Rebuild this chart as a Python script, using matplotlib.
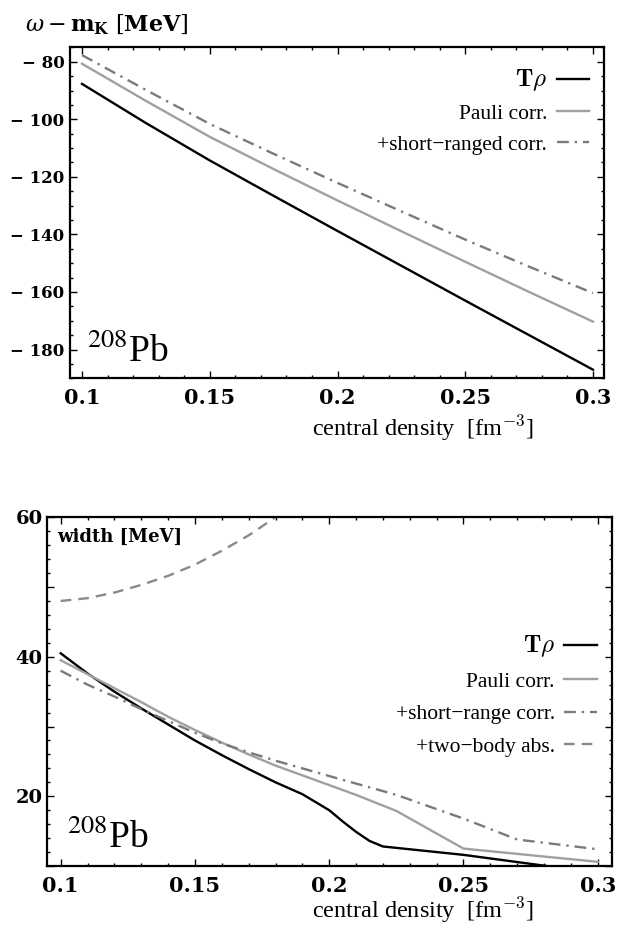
import numpy as np
import matplotlib
matplotlib.use("Agg")
import matplotlib.pyplot as plt
from matplotlib.ticker import MultipleLocator, FuncFormatter

plt.rcParams['font.family'] = ['Liberation Serif', 'DejaVu Serif']
plt.rcParams['mathtext.fontset'] = 'cm'

# ---- upper panel: omega - m_K vs central density ----
rho_top = [0.1, 0.125, 0.15, 0.175, 0.2, 0.225, 0.25, 0.275, 0.3]
e_trho = [-87.7, -101.3, -114.3, -126.6, -138.8, -150.9, -163.0, -175.0, -187.0]
e_pauli = [-80.7, -93.6, -106.1, -117.3, -128.2, -138.9, -149.5, -160.0, -170.3]
e_short = [-77.7, -89.8, -101.6, -112.0, -122.1, -132.0, -141.8, -151.2, -160.4]

# ---- lower panel: width vs central density ----
rho_trho = [0.1, 0.11, 0.12, 0.13, 0.14, 0.15, 0.16, 0.17, 0.18, 0.19, 0.2,
            0.205, 0.21, 0.215, 0.22, 0.25, 0.283, 0.3]
w_trho = [40.5, 37.6, 35.0, 32.6, 30.3, 28.0, 25.9, 23.9, 22.0, 20.3, 18.0,
          16.4, 14.9, 13.6, 12.8, 11.6, 9.9, 9.1]
rho_pauli = [0.1, 0.11, 0.12, 0.13, 0.14, 0.15, 0.16, 0.17, 0.18, 0.19, 0.2,
             0.21, 0.225, 0.25, 0.3]
w_pauli = [39.5, 37.5, 35.5, 33.5, 31.4, 29.5, 27.7, 26.0, 24.4, 23.0, 21.6,
           20.2, 17.9, 12.5, 10.6]
rho_short = [0.1, 0.11, 0.12, 0.13, 0.14, 0.15, 0.16, 0.17, 0.18, 0.19, 0.2,
             0.225, 0.25, 0.27, 0.3]
w_short = [38.0, 36.0, 34.3, 32.5, 30.8, 29.1, 27.6, 26.3, 25.1, 24.0, 22.9,
           20.2, 16.8, 13.8, 12.4]
rho_twobody = [0.1, 0.11, 0.12, 0.13, 0.14, 0.15, 0.16, 0.17, 0.18, 0.19, 0.2]
w_twobody = [48.0, 48.4, 49.2, 50.3, 51.6, 53.2, 55.2, 57.4, 60.0, 62.8, 66.0]

c_pauli = '#a0a0a0'
c_short = '#7a7a7a'
c_two = '#8a8a8a'
lw = 1.7
dashdot = (0, (5, 2.5, 1, 2.5))
dashed = (0, (4.5, 3))
tickfont = {'family': 'DejaVu Serif', 'weight': 'bold'}


def style_axes(ax):
    for s in ax.spines.values():
        s.set_linewidth(1.6)
    ax.tick_params(which='both', direction='in', top=True, right=True, width=1.0)
    ax.tick_params(which='major', length=5)
    ax.tick_params(which='minor', length=2.5)
    ax.xaxis.set_major_locator(MultipleLocator(0.05))
    ax.xaxis.set_minor_locator(MultipleLocator(0.01))
    ax.xaxis.set_major_formatter(FuncFormatter(lambda v, p: '%g' % round(v, 3)))
    ax.tick_params(axis='x', labelsize=15, pad=7)


def bold_ticks(ax):
    for lab in ax.get_xticklabels() + ax.get_yticklabels():
        lab.set_fontfamily(tickfont['family'])
        lab.set_fontweight(tickfont['weight'])


fig = plt.figure(figsize=(6.18, 9.3), dpi=100)

ax1 = fig.add_axes([0.1133, 0.5932, 0.864, 0.3559])
ax1.plot(rho_top, e_trho, color='black', lw=lw, label=r'$\mathbf{T}\rho$')
ax1.plot(rho_top, e_pauli, color=c_pauli, lw=lw, label='Pauli corr.')
ax1.plot(rho_top, e_short, color=c_short, lw=lw, linestyle=dashdot,
         label='+short\u2212ranged corr.')
ax1.set_xlim(0.0953, 0.3043)
ax1.set_ylim(-190, -75)
style_axes(ax1)
ax1.yaxis.set_major_locator(MultipleLocator(20))
ax1.yaxis.set_minor_locator(MultipleLocator(5))
ax1.yaxis.set_major_formatter(FuncFormatter(lambda v, p: '\u2212 %d' % abs(v)))
ax1.tick_params(axis='y', labelsize=12, pad=4)

ax2 = fig.add_axes([0.0756, 0.0688, 0.9142, 0.375])
ax2.plot(rho_trho, w_trho, color='black', lw=lw, label=r'$\mathbf{T}\rho$')
ax2.plot(rho_pauli, w_pauli, color=c_pauli, lw=lw, label='Pauli corr.')
ax2.plot(rho_short, w_short, color=c_short, lw=lw, linestyle=dashdot,
         label='+short\u2212range corr.')
ax2.plot(rho_twobody, w_twobody, color=c_two, lw=lw, linestyle=dashed,
         label='+two\u2212body abs.')
ax2.set_xlim(0.0948, 0.3052)
ax2.set_ylim(10, 60)
style_axes(ax2)
ax2.yaxis.set_major_locator(MultipleLocator(10))
ax2.yaxis.set_minor_locator(MultipleLocator(2))
ax2.yaxis.set_major_formatter(FuncFormatter(
    lambda v, p: '%d' % v if int(round(v)) % 20 == 0 else ''))
ax2.tick_params(axis='y', labelsize=14, pad=3)

fig.canvas.draw()
bold_ticks(ax1)
bold_ticks(ax2)

# legends
for ax, anchor, spacing in [(ax1, (1.0, 0.985), 0.5), (ax2, (1.0, 0.71), 0.58)]:
    leg = ax.legend(loc='upper right', bbox_to_anchor=anchor, frameon=False,
                    markerfirst=False, handlelength=1.5, handletextpad=0.45,
                    labelspacing=spacing, borderaxespad=0.3, prop={'size': 15.5})
    leg.get_texts()[0].set_fontsize(18)

# labels
fig.text(0.04, 0.973, r'$\omega - \mathbf{m_K}\ [\mathbf{MeV}]$', fontsize=16,
         ha='left', va='center', math_fontfamily='dejavuserif')
ax1.text(0.869, -0.15, r'central density  [fm$^{\mathbf{-3}}$]', fontsize=17.5,
         ha='right', va='center', transform=ax1.transAxes)
ax2.text(0.8625, -0.126, r'central density  [fm$^{\mathbf{-3}}$]', fontsize=17.5,
         ha='right', va='center', transform=ax2.transAxes)
ax2.text(0.018, 0.943, 'width [MeV]', fontsize=13, family='DejaVu Serif',
         weight='bold', ha='left', va='center', transform=ax2.transAxes)

for ax, xy in [(ax1, (0.032, 0.05)), (ax2, (0.036, 0.052))]:
    ax.text(xy[0], xy[1], r'$^{208}$Pb', fontsize=27, ha='left', va='baseline',
            transform=ax.transAxes, math_fontfamily='stix')

fig.savefig('out.png', dpi=100, facecolor='white')
